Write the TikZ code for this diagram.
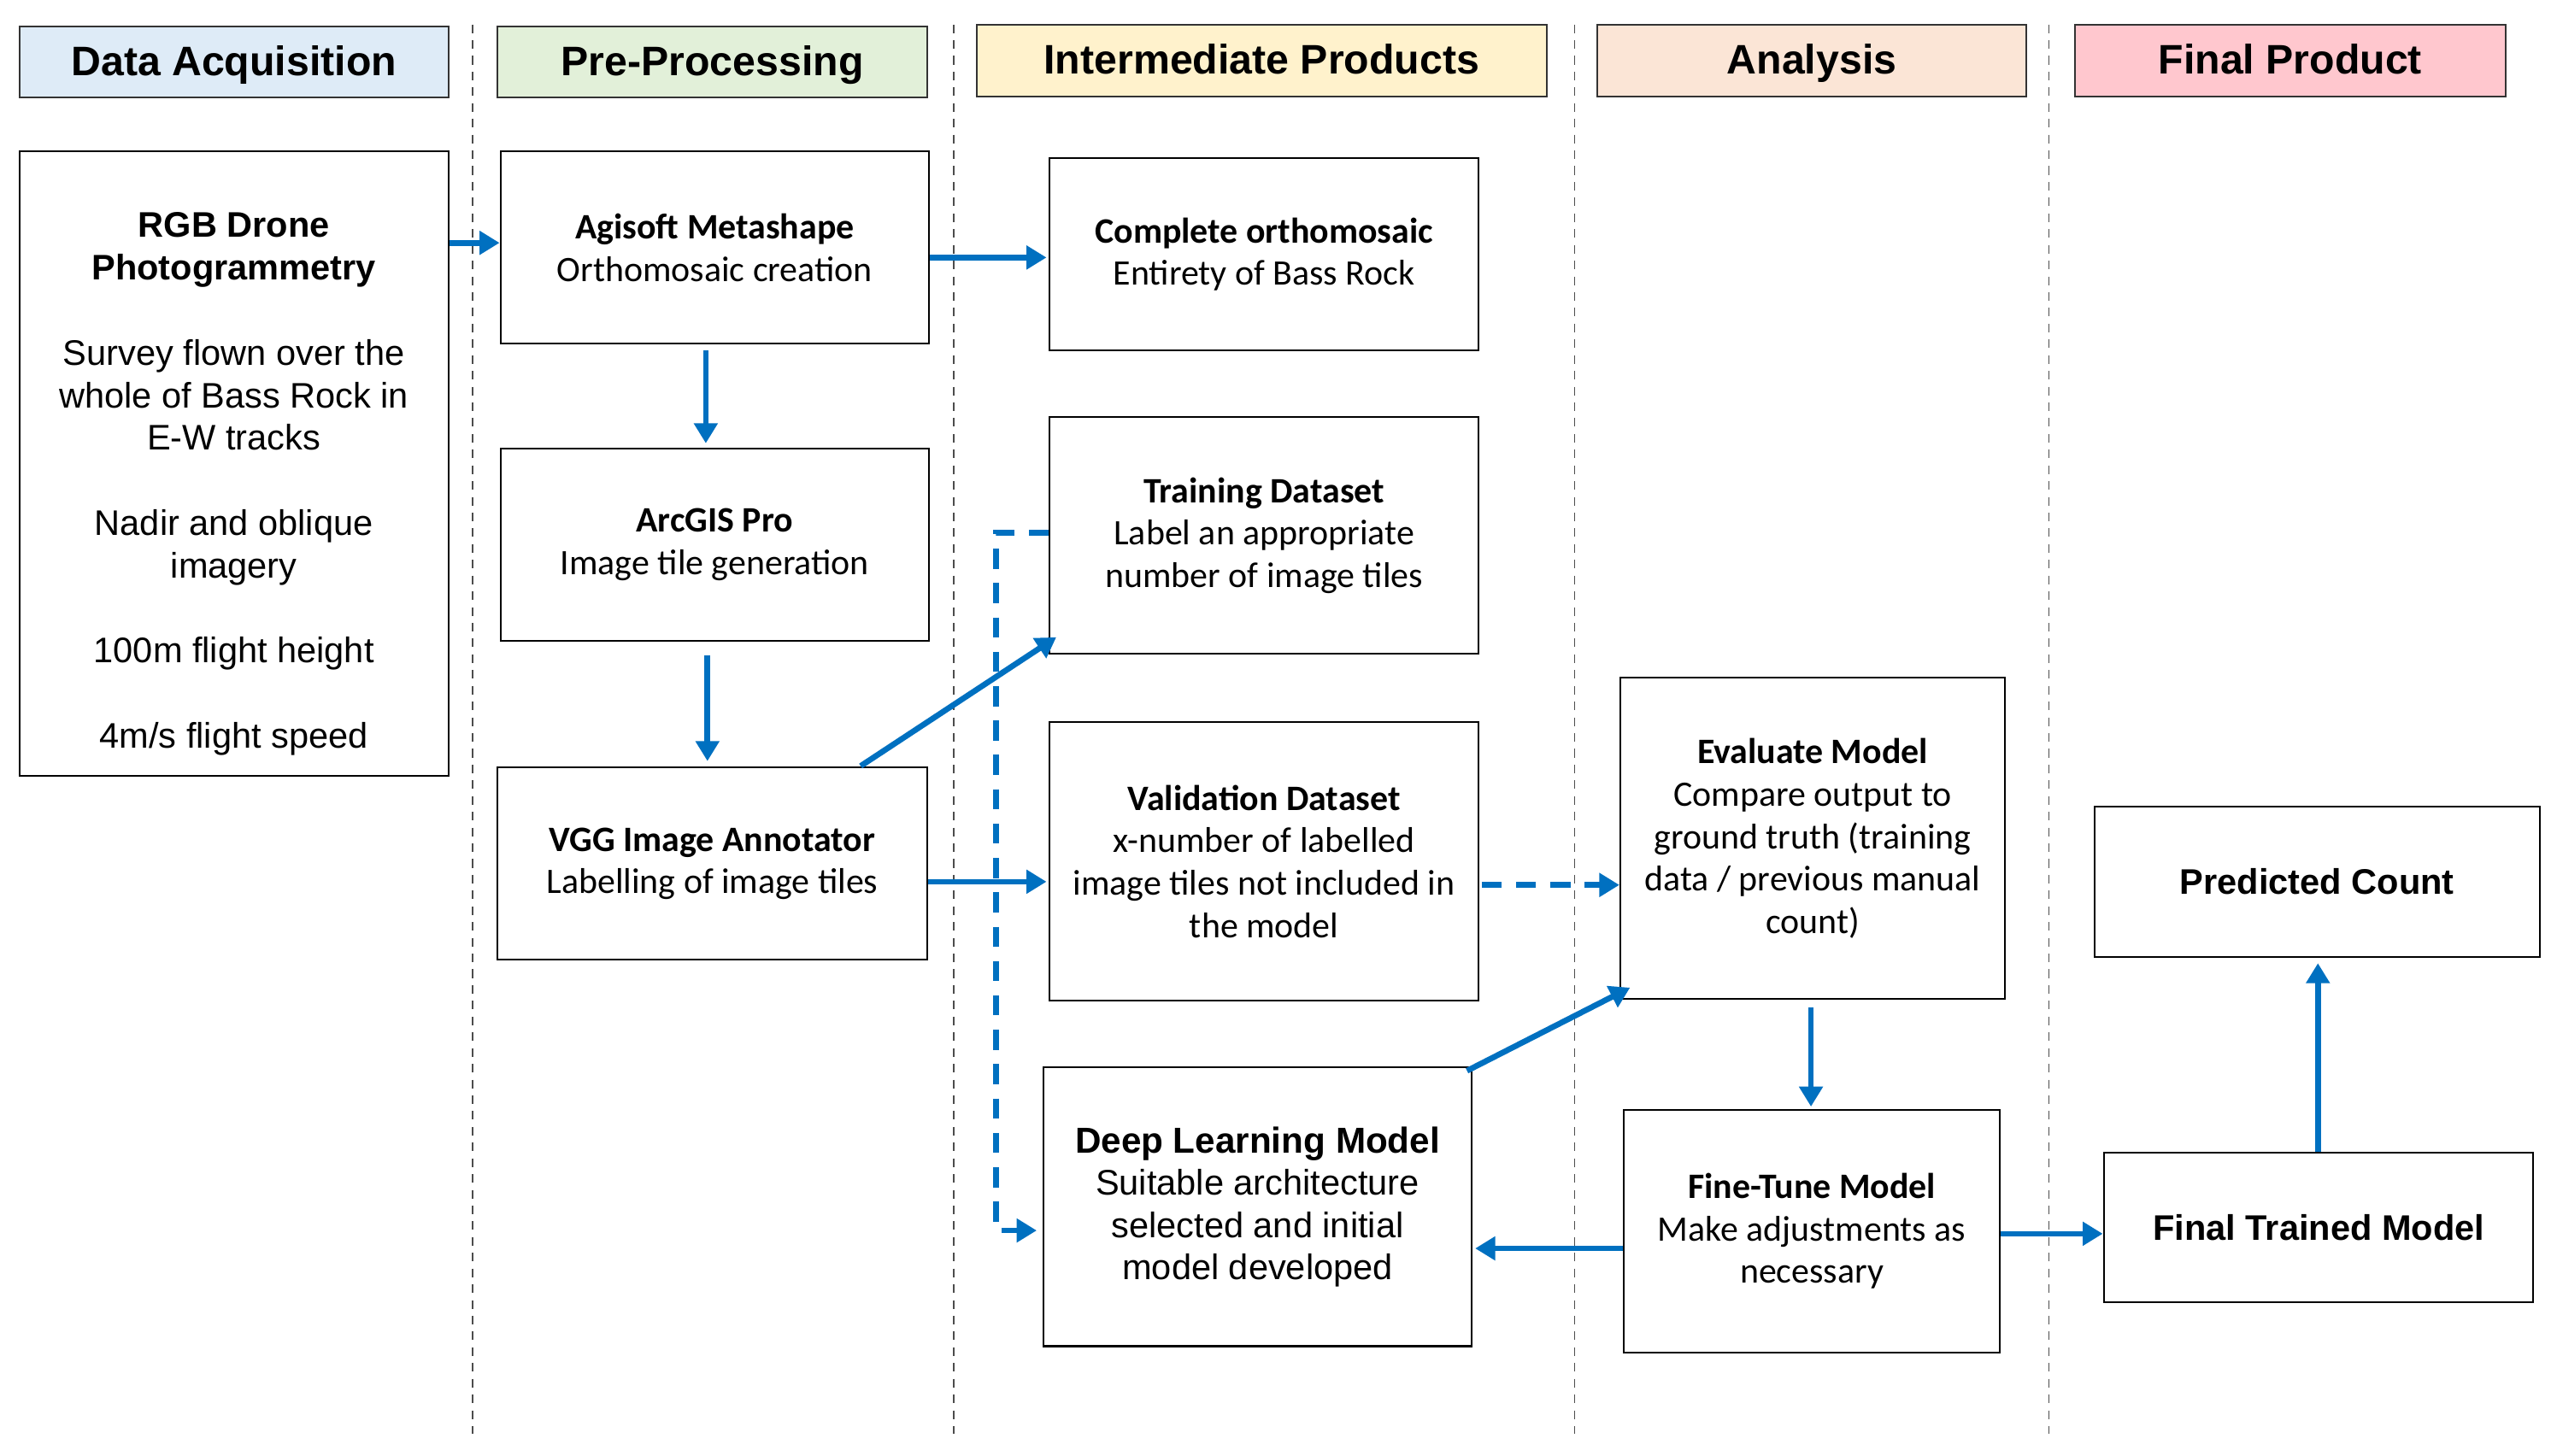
\documentclass[tikz,border=0pt]{standalone}
\usepackage{fontspec}
\setmainfont{Liberation Sans}
\newfontfamily\calfnt{Carlito}
\usetikzlibrary{arrows.meta}
\definecolor{arr}{HTML}{0070C0}
\definecolor{c1}{HTML}{DEEBF7}
\definecolor{c2}{HTML}{E2F0D9}
\definecolor{c3}{HTML}{FFF2CC}
\definecolor{c4}{HTML}{FBE5D6}
\definecolor{c5}{HTML}{FFC7CE}
\begin{document}
\begin{tikzpicture}[x=0.02cm,y=-0.02cm,
 hdr/.style={draw=black!80,line width=0.6pt,minimum height=44*0.02cm,inner sep=0pt,text height=12.5pt,text depth=3pt,font=\fontsize{14.4}{16}\selectfont\bfseries},
 box/.style={draw=black,line width=0.6pt,align=center,inner sep=0pt,font=\calfnt\fontsize{12.5}{14.8}\selectfont},
 abox/.style={box,font=\fontsize{12.4}{14.8}\selectfont},
 ar/.style={draw=arr,line width=2pt,-{Triangle[length=7pt,width=8pt]}},
 dar/.style={ar,dash pattern=on 7pt off 5pt},
 sep/.style={draw=black!70,line width=0.5pt,dash pattern=on 3pt off 2.5pt}]
\useasboundingbox (0,0) rectangle (1565,893);
\fill[white] (0,0) rectangle (1565,893);
\foreach \x in {290,585,966,1257}{\draw[sep] (\x,15) -- (\x,880);}
\node[hdr,fill=c1,minimum width=263*0.02cm] (h1) at (143.5,38) {Data Acquisition};
\node[hdr,fill=c2,minimum width=264*0.02cm] (h2) at (437,38) {Pre-Processing};
\node[hdr,fill=c3,minimum width=350*0.02cm] (h3) at (774,37) {Intermediate Products};
\node[hdr,fill=c4,minimum width=263*0.02cm] (h4) at (1111.5,37) {Analysis};
\node[hdr,fill=c5,minimum width=264*0.02cm] (h5) at (1405,37) {Final Product};
\newcommand{\bx}[7]{\node[#1,minimum width=(#4-#3)*0.02cm,minimum height=(#6-#5)*0.02cm] (#2) at ({(#3+#4)/2},{(#5+#6)/2}) {#7};}
\bx{abox}{rgb}{12}{275}{93}{476}{\rule{0pt}{23pt}\textbf{RGB Drone}\\\textbf{Photogrammetry}\\[15pt]Survey flown over the\\whole of Bass Rock in\\E-W tracks\\[15pt]Nadir and oblique\\imagery\\[15pt]100m flight height\\[15pt]4m/s flight speed}
\bx{box}{agi}{307}{570}{93}{211}{\textbf{Agisoft Metashape}\\Orthomosaic creation}
\bx{box}{arc}{307}{570}{275}{393}{\textbf{ArcGIS Pro}\\Image tile generation}
\bx{box}{vgg}{305}{569}{471}{589}{\textbf{VGG Image Annotator}\\Labelling of image tiles}
\bx{box}{comp}{644}{907}{97}{215}{\textbf{Complete orthomosaic}\\Entirety of Bass Rock}
\bx{box}{train}{644}{907}{256}{401}{\textbf{Training Dataset}\\Label an appropriate\\number of image tiles}
\bx{box}{val}{644}{907}{443}{614}{\textbf{Validation Dataset}\\x-number of labelled\\image tiles not included in\\the model}
\bx{abox}{deep}{640}{903}{655}{826}{{\fontsize{12.6}{14.8}\selectfont\textbf{Deep Learning Model}}\\Suitable architecture\\selected and initial\\model developed}
\bx{box}{eval}{994}{1230}{416}{613}{\textbf{Evaluate Model}\\Compare output to\\ground truth (training\\data / previous manual\\count)}
\bx{box}{fine}{996}{1227}{681}{830}{\textbf{Fine-Tune Model}\\Make adjustments as\\necessary}
\bx{abox}{pred}{1285}{1558}{495}{587}{\textbf{Predicted Count}}
\bx{abox}{fin}{1291}{1554}{707}{799}{\textbf{Final Trained Model}}
\coordinate (p1) at (0,149);
\coordinate (p2) at (0,158);
\coordinate (p3) at (0,541);
\coordinate (p4) at (0,543);
\coordinate (p5) at (0,766);
\coordinate (p6) at (0,757);
\coordinate (p7) at (1422,0);
\coordinate (k1) at (611,327);
\draw[ar] (rgb.east|-p1) -- (agi.west|-p1);
\draw[ar] (agi.east|-p2) -- (642,158);
\draw[ar] (433,215) -- (433,272);
\draw[ar] (434,402) -- (434,467);
\draw[ar] (528,470) -- (648,391);
\draw[ar] (vgg.east|-p3) -- (642,541);
\draw[dar] (train.west|-k1) -- (k1) -- (611,755) -- (636,755);
\draw[dar] (909,543) -- (eval.west|-p4);
\draw[ar] (900,657) -- (1000,606);
\draw[ar] (1111,618) -- (1111,679);
\draw[ar] (fine.west|-p5) -- (905,766);
\draw[ar] (fine.east|-p6) -- (1290,757);
\draw[ar] (fin.north-|p7) -- (1422,591);
\end{tikzpicture}
\end{document}
